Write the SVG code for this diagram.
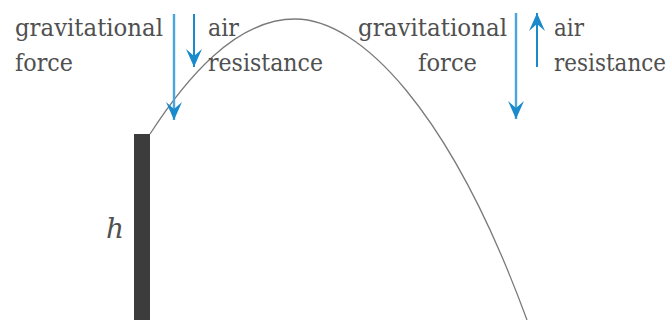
<svg xmlns="http://www.w3.org/2000/svg" width="672" height="320" viewBox="0 0 672 320">
<defs>
<style>
text{font-family:'DejaVu Serif',serif;font-size:25px;fill:#505050}
.grav{stroke:#4aa6dc;stroke-width:2.4;fill:none}
.air{stroke:#1a8acb;stroke-width:2;fill:none}
.path{stroke:#7a7a7a;stroke-width:1.3;fill:none}
</style>
<marker id="head" markerUnits="userSpaceOnUse" markerWidth="22" markerHeight="20" viewBox="-20 -10 22 20" refX="0" refY="0" orient="auto">
<path d="M0,0 L-18,-8 L-11,0 L-18,8 Z" fill="#1a8acb"/>
</marker>
</defs>
<rect width="672" height="320" fill="#ffffff"/>
<g id="building">
<rect x="134" y="134" width="16" height="186" fill="#3c3c3c"/>
<text x="106" y="238" font-style="italic" style="font-size:28px">h</text>
</g>
<g id="trajectory">
<path class="path" d="M150,134 C185,80 235,19 295,19 C360,19 450,110 527,320"/>
</g>
<g id="labels-left">
<text x="15" y="36" textLength="148" lengthAdjust="spacingAndGlyphs">gravitational</text>
<text x="15" y="71" textLength="58" lengthAdjust="spacingAndGlyphs">force</text>
<text x="208" y="36" textLength="31" lengthAdjust="spacingAndGlyphs">air</text>
<text x="208" y="71" textLength="115" lengthAdjust="spacingAndGlyphs">resistance</text>
</g>
<g id="labels-right">
<text x="358" y="36" textLength="149" lengthAdjust="spacingAndGlyphs">gravitational</text>
<text x="418" y="71" textLength="59" lengthAdjust="spacingAndGlyphs">force</text>
<text x="554" y="36" textLength="30" lengthAdjust="spacingAndGlyphs">air</text>
<text x="666" y="71" text-anchor="end" textLength="112" lengthAdjust="spacingAndGlyphs">resistance</text>
</g>
<g id="connectors">
<line class="grav" x1="174" y1="14" x2="174" y2="120" marker-end="url(#head)"/>
<line class="air" x1="194" y1="14" x2="194" y2="67" marker-end="url(#head)"/>
<line class="grav" x1="516" y1="13" x2="516" y2="119" marker-end="url(#head)"/>
<line class="air" x1="537" y1="67" x2="537" y2="13" marker-end="url(#head)"/>
</g>
</svg>
